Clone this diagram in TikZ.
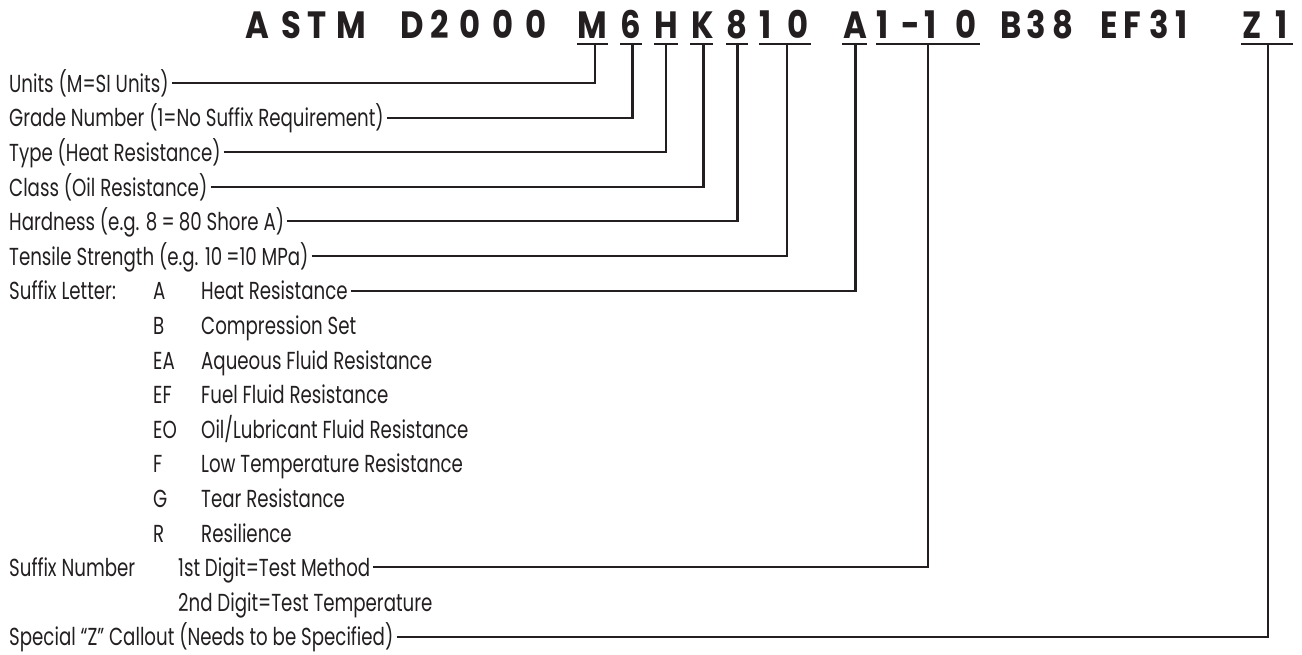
\documentclass[tikz,border=0pt]{standalone}
\usepackage{fontspec}
\setmainfont{Poppins}
\newfontfamily\bodyfont{Poppins}[FakeStretch=0.74]
\newfontfamily\titlefont{Poppins}[FakeStretch=0.85]
\definecolor{ink}{RGB}{35,31,32}
\begin{document}
\begin{tikzpicture}[x=1pt,y=-1pt,
  lbl/.style={font=\bodyfont\fontsize{24.6}{24.6}\selectfont, text=ink, inner sep=0pt,
    text height=18.6pt, text depth=0pt, anchor=south west},
  ttl/.style={font=\titlefont\bfseries\fontsize{38}{38}\selectfont, text=ink, inner sep=0pt, anchor=base},
  conn/.style={draw=ink, line width=2.1pt, shorten <=3pt},
  uline/.style={draw=ink, line width=2.1pt}]
\useasboundingbox (0,0) rectangle (1302,654);
% title characters
\foreach \ch/\cx [count=\i] in {A/257.5,S/291.5,T/317,M/351,D/412,2/440,0/470,0/503,0/536,
  M/592.5,6/631,H/666,K/702.5,8/737,1/766,0/798.5,A/855,1/882.5,-/910.5,1/931,0/966.5,
  B/1011,3/1036,8/1062.5,E/1109.5,F/1132.5,3/1159,1/1182,Z/1252.5,1/1282}
  \node[ttl] (t\i) at (\cx,38.5) {\ch};
% underlines
\draw[uline] (577,44) -- (608,44);
\draw[uline] (620,44) -- (642,44);
\draw[uline] (654,44) -- (678,44);
\draw[uline] (690,44) -- (713,44);
\draw[uline] (726,44) -- (748,44);
\draw[uline] (759,44) -- (811,44);
\draw[uline] (842,44) -- (867,44);
\draw[uline] (876,44) -- (980,44);
\draw[uline] (1241,44) -- (1293,44);
% tick points
\coordinate (uM) at (595,44);
\coordinate (u6) at (632.5,44);
\coordinate (uH) at (666,44);
\coordinate (uK) at (703.5,44);
\coordinate (u8) at (737.5,44);
\coordinate (u10) at (787,44);
\coordinate (uA) at (855.5,44);
\coordinate (uN) at (928,44);
\coordinate (uZ) at (1268,44);
% labels
\node[lbl] (r0) at (9,92.5) {Units (M=SI Units)};
\node[lbl] (r1) at (9,127.1) {Grade Number (1=No Suffix Requirement)};
\node[lbl] (r2) at (9,161.7) {Type (Heat Resistance)};
\node[lbl] (r3) at (9,196.3) {Class (Oil Resistance)};
\node[lbl] (r4) at (9,230.9) {Hardness (e.g. 8\,=\,80 Shore A)};
\node[lbl] (r5) at (9,265.5) {Tensile Strength (e.g. 10\,=10 MPa)};
\node[lbl] (r6) at (9,300.1) {Suffix Letter:};
\node[lbl] (l6) at (153,300.1) {A};
\node[lbl] (d6) at (201,300.1) {Heat Resistance};
\node[lbl] (l7) at (153,334.7) {B};
\node[lbl] (d7) at (201,334.7) {Compression Set};
\node[lbl] (l8) at (153,369.3) {EA};
\node[lbl] (d8) at (201,369.3) {Aqueous Fluid Resistance};
\node[lbl] (l9) at (153,403.9) {EF};
\node[lbl] (d9) at (201,403.9) {Fuel Fluid Resistance};
\node[lbl] (l10) at (153,438.5) {EO};
\node[lbl] (d10) at (201,438.5) {Oil/Lubricant Fluid Resistance};
\node[lbl] (l11) at (153,473.1) {F};
\node[lbl] (d11) at (201,473.1) {Low Temperature Resistance};
\node[lbl] (l12) at (153,507.7) {G};
\node[lbl] (d12) at (201,507.7) {Tear Resistance};
\node[lbl] (l13) at (153,542.3) {R};
\node[lbl] (d13) at (201,542.3) {Resilience};
\node[lbl] (r14) at (9,576.9) {Suffix Number};
\node[lbl] (d14) at (178,576.9) {1st Digit=Test Method};
\node[lbl] (d15) at (178,611.5) {2nd Digit=Test Temperature};
\node[lbl] (r16) at (9,646.1) {Special “Z” Callout (Needs to be Specified)};
% connectors
\draw[conn] (r0.east) -| (uM);
\draw[conn] (r1.east) -| (u6);
\draw[conn] (r2.east) -| (uH);
\draw[conn] (r3.east) -| (uK);
\draw[conn] (r4.east) -| (u8);
\draw[conn] (r5.east) -| (u10);
\draw[conn] (d6.east) -| (uA);
\draw[conn] (d14.east) -| (uN);
\draw[conn] (r16.east) -| (uZ);
\end{tikzpicture}
\end{document}
